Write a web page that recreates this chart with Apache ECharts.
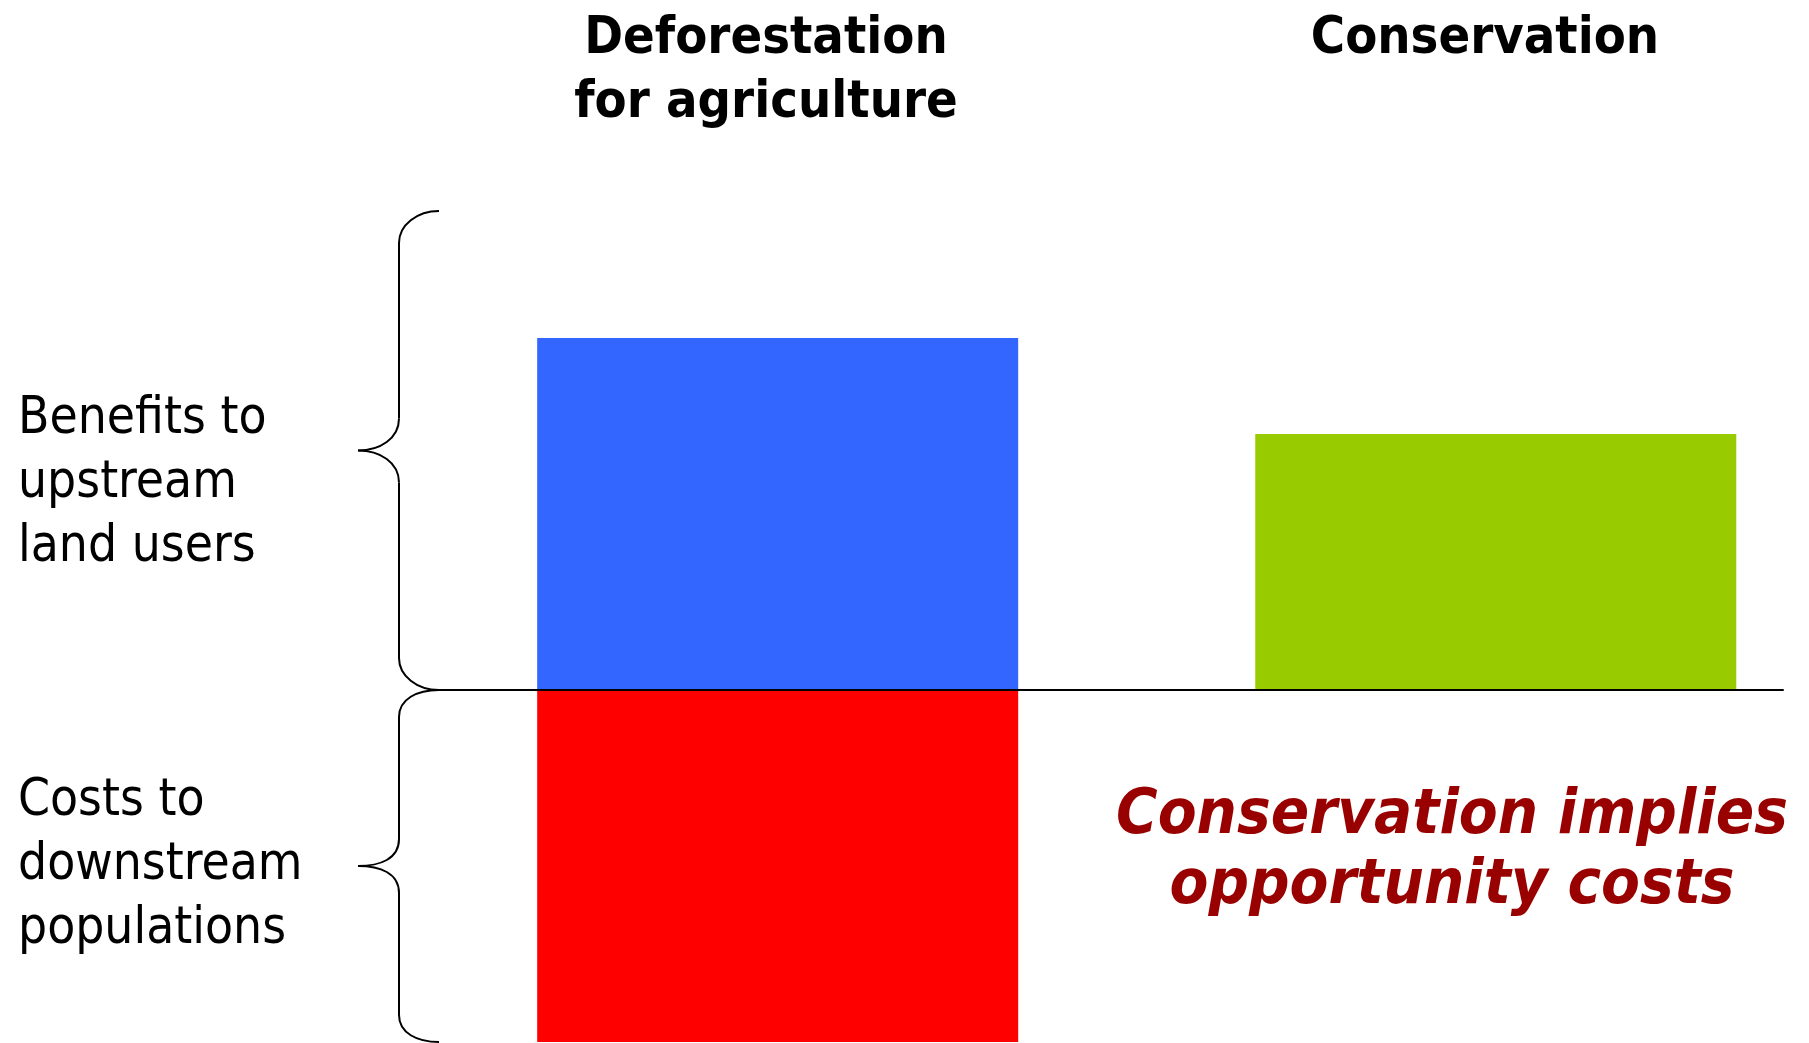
<!DOCTYPE html>
<html>
<head>
<meta charset="utf-8">
<script src="https://cdn.jsdelivr.net/npm/echarts@6/dist/echarts.min.js"></script>
<style>
  html, body { margin: 0; padding: 0; background: #fff; }
  #chart { width: 1809px; height: 1043px; }
</style>
</head>
<body>
<div id="chart"></div>
<script>
const CATEGORIES = ['Deforestation\nfor agriculture', 'Conservation'];
const BENEFITS = [11, 8];      // upstream benefits, per category
const COSTS = [-11, null];     // downstream costs, per category
const BENEFIT_COLORS = ['#3366ff', '#99cc00'];
const COST_COLOR = '#ff0000';
const ROW_LABELS = ['Benefits to\nupstream\nland users', 'Costs to\ndownstream\npopulations'];
const NOTE = 'Conservation implies\nopportunity costs';

const FONT = '"DejaVu Sans Condensed", "DejaVu Sans", sans-serif';

const chart = echarts.init(document.getElementById('chart'));

// curly brace between yTop and yBot, tip pointing left
const brace = (xEnd, xMid, xTip, yTop, yBot, r) => {
    const ym = (yTop + yBot) / 2;
    const st = { fill: 'none', stroke: '#000', lineWidth: 2 };
    const curve = (x1, y1, c1x, c1y, c2x, c2y, x2, y2) => ({
        type: 'bezierCurve', z: 20, silent: true, style: st,
        shape: { x1, y1, cpx1: c1x, cpy1: c1y, cpx2: c2x, cpy2: c2y, x2, y2 }
    });
    const line = (x1, y1, x2, y2) => ({ type: 'line', z: 20, silent: true, style: st, shape: { x1, y1, x2, y2 } });
    return [
        curve(xEnd, yTop, xEnd - 22, yTop, xMid, yTop + r - 18, xMid, yTop + r),
        line(xMid, yTop + r, xMid, ym - r),
        curve(xMid, ym - r, xMid, ym - r + 20, xTip + 22, ym, xTip, ym),
        curve(xTip, ym, xTip + 22, ym, xMid, ym + r - 20, xMid, ym + r),
        line(xMid, ym + r, xMid, yBot - r),
        curve(xMid, yBot - r, xMid, yBot - r + 18, xEnd - 22, yBot, xEnd, yBot)
    ];
};

chart.setOption({
    animation: false,
    grid: { left: 433, right: 26, top: 50, bottom: 1 },
    xAxis: {
        type: 'value',
        min: -0.48,
        max: 1.4,
        z: 10,
        axisLine: { show: true, onZero: true, lineStyle: { color: '#000', width: 2 } },
        axisTick: { show: false },
        axisLabel: { show: false },
        splitLine: { show: false }
    },
    yAxis: {
        type: 'value',
        min: -11,
        max: 20,
        show: false
    },
    series: [
        {
            name: 'Benefits',
            type: 'bar',
            stack: 'all',
            barWidth: 481,
            data: BENEFITS.map((v, i) => ({ value: [i, v], itemStyle: { color: BENEFIT_COLORS[i] } }))
        },
        {
            name: 'Costs',
            type: 'bar',
            stack: 'all',
            barWidth: 481,
            itemStyle: { color: COST_COLOR },
            data: COSTS.map((v, i) => [i, v]).filter(d => d[1] !== null)
        }
    ],
    graphic: [
        {
            type: 'text', x: 766, y: 7,
            style: { text: CATEGORIES[0], align: 'center', font: `bold 52px ${FONT}`, lineHeight: 64, fill: '#000' }
        },
        {
            type: 'text', x: 1485, y: 7,
            style: { text: CATEGORIES[1], align: 'center', font: `bold 52px ${FONT}`, lineHeight: 64, fill: '#000' }
        },
        {
            type: 'text', x: 18, y: 388,
            style: { text: ROW_LABELS[0], font: `51px ${FONT}`, lineHeight: 64, fill: '#000' }
        },
        {
            type: 'text', x: 18, y: 770,
            style: { text: ROW_LABELS[1], font: `51px ${FONT}`, lineHeight: 64, fill: '#000' }
        },
        {
            type: 'text', x: 1452, y: 782,
            style: { text: NOTE, align: 'center', font: `italic bold 63px ${FONT}`, lineHeight: 70, fill: '#990000' }
        },
        ...brace(439, 399, 358, 211, 690, 32),
        ...brace(439, 399, 358, 690, 1042, 27)
    ]
});
</script>
</body>
</html>
